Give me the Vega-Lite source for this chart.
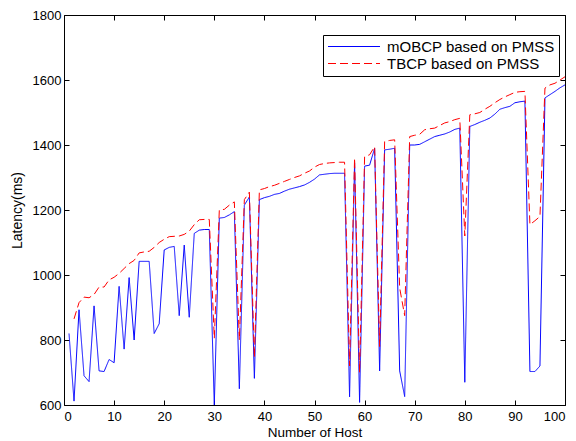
{
  "$schema": "https://vega.github.io/schema/vega-lite/v6.json",
  "width": 501,
  "height": 390,
  "autosize": {"type": "none"},
  "padding": {"left": 64, "top": 15, "right": 11, "bottom": 36},
  "background": "white",
  "config": {
    "view": {"stroke": "black", "strokeWidth": 1},
    "font": "Liberation Sans",
    "axis": {
      "domain": false,
      "grid": false,
      "tickColor": "black",
      "tickSize": -5,
      "labelColor": "black",
      "labelFontSize": 13,
      "labelPadding": 8,
      "format": "d",
      "titleColor": "black",
      "titleFontSize": 14,
      "titleFontWeight": "normal"
    }
  },
  "datasets": {
    "pts": [
      {"x":1,"v":820,"s":"mOBCP based on PMSS"},{"x":2,"v":612,"s":"mOBCP based on PMSS"},{"x":3,"v":893,"s":"mOBCP based on PMSS"},{"x":4,"v":690,"s":"mOBCP based on PMSS"},{"x":5,"v":672,"s":"mOBCP based on PMSS"},{"x":6,"v":905,"s":"mOBCP based on PMSS"},{"x":7,"v":705,"s":"mOBCP based on PMSS"},{"x":8,"v":703,"s":"mOBCP based on PMSS"},{"x":9,"v":740,"s":"mOBCP based on PMSS"},{"x":10,"v":730,"s":"mOBCP based on PMSS"},
      {"x":11,"v":965,"s":"mOBCP based on PMSS"},{"x":12,"v":772,"s":"mOBCP based on PMSS"},{"x":13,"v":992,"s":"mOBCP based on PMSS"},{"x":14,"v":800,"s":"mOBCP based on PMSS"},{"x":15,"v":1042,"s":"mOBCP based on PMSS"},{"x":16,"v":1042,"s":"mOBCP based on PMSS"},{"x":17,"v":1042,"s":"mOBCP based on PMSS"},{"x":18,"v":820,"s":"mOBCP based on PMSS"},{"x":19,"v":850,"s":"mOBCP based on PMSS"},{"x":20,"v":1077,"s":"mOBCP based on PMSS"},
      {"x":21,"v":1085,"s":"mOBCP based on PMSS"},{"x":22,"v":1088,"s":"mOBCP based on PMSS"},{"x":23,"v":875,"s":"mOBCP based on PMSS"},{"x":24,"v":1092,"s":"mOBCP based on PMSS"},{"x":25,"v":870,"s":"mOBCP based on PMSS"},{"x":26,"v":1128,"s":"mOBCP based on PMSS"},{"x":27,"v":1138,"s":"mOBCP based on PMSS"},{"x":28,"v":1140,"s":"mOBCP based on PMSS"},{"x":29,"v":1140,"s":"mOBCP based on PMSS"},{"x":30,"v":600,"s":"mOBCP based on PMSS"},
      {"x":31,"v":1175,"s":"mOBCP based on PMSS"},{"x":32,"v":1177,"s":"mOBCP based on PMSS"},{"x":33,"v":1185,"s":"mOBCP based on PMSS"},{"x":34,"v":1195,"s":"mOBCP based on PMSS"},{"x":35,"v":650,"s":"mOBCP based on PMSS"},{"x":36,"v":1215,"s":"mOBCP based on PMSS"},{"x":37,"v":1240,"s":"mOBCP based on PMSS"},{"x":38,"v":682,"s":"mOBCP based on PMSS"},{"x":39,"v":1232,"s":"mOBCP based on PMSS"},{"x":40,"v":1238,"s":"mOBCP based on PMSS"},
      {"x":41,"v":1242,"s":"mOBCP based on PMSS"},{"x":42,"v":1248,"s":"mOBCP based on PMSS"},{"x":43,"v":1251,"s":"mOBCP based on PMSS"},{"x":44,"v":1258,"s":"mOBCP based on PMSS"},{"x":45,"v":1264,"s":"mOBCP based on PMSS"},{"x":46,"v":1268,"s":"mOBCP based on PMSS"},{"x":47,"v":1272,"s":"mOBCP based on PMSS"},{"x":48,"v":1277,"s":"mOBCP based on PMSS"},{"x":49,"v":1285,"s":"mOBCP based on PMSS"},{"x":50,"v":1295,"s":"mOBCP based on PMSS"},
      {"x":51,"v":1308,"s":"mOBCP based on PMSS"},{"x":52,"v":1310,"s":"mOBCP based on PMSS"},{"x":53,"v":1312,"s":"mOBCP based on PMSS"},{"x":54,"v":1313,"s":"mOBCP based on PMSS"},{"x":55,"v":1313,"s":"mOBCP based on PMSS"},{"x":56,"v":1313,"s":"mOBCP based on PMSS"},{"x":57,"v":625,"s":"mOBCP based on PMSS"},{"x":58,"v":1345,"s":"mOBCP based on PMSS"},{"x":59,"v":608,"s":"mOBCP based on PMSS"},{"x":60,"v":1335,"s":"mOBCP based on PMSS"},
      {"x":61,"v":1338,"s":"mOBCP based on PMSS"},{"x":62,"v":1390,"s":"mOBCP based on PMSS"},{"x":63,"v":705,"s":"mOBCP based on PMSS"},{"x":64,"v":1385,"s":"mOBCP based on PMSS"},{"x":65,"v":1387,"s":"mOBCP based on PMSS"},{"x":66,"v":1390,"s":"mOBCP based on PMSS"},{"x":67,"v":705,"s":"mOBCP based on PMSS"},{"x":68,"v":626,"s":"mOBCP based on PMSS"},{"x":69,"v":1400,"s":"mOBCP based on PMSS"},{"x":70,"v":1400,"s":"mOBCP based on PMSS"},
      {"x":71,"v":1402,"s":"mOBCP based on PMSS"},{"x":72,"v":1410,"s":"mOBCP based on PMSS"},{"x":73,"v":1418,"s":"mOBCP based on PMSS"},{"x":74,"v":1426,"s":"mOBCP based on PMSS"},{"x":75,"v":1430,"s":"mOBCP based on PMSS"},{"x":76,"v":1434,"s":"mOBCP based on PMSS"},{"x":77,"v":1440,"s":"mOBCP based on PMSS"},{"x":78,"v":1448,"s":"mOBCP based on PMSS"},{"x":79,"v":1452,"s":"mOBCP based on PMSS"},{"x":80,"v":670,"s":"mOBCP based on PMSS"},
      {"x":81,"v":1457,"s":"mOBCP based on PMSS"},{"x":82,"v":1463,"s":"mOBCP based on PMSS"},{"x":83,"v":1470,"s":"mOBCP based on PMSS"},{"x":84,"v":1476,"s":"mOBCP based on PMSS"},{"x":85,"v":1483,"s":"mOBCP based on PMSS"},{"x":86,"v":1495,"s":"mOBCP based on PMSS"},{"x":87,"v":1510,"s":"mOBCP based on PMSS"},{"x":88,"v":1515,"s":"mOBCP based on PMSS"},{"x":89,"v":1519,"s":"mOBCP based on PMSS"},{"x":90,"v":1530,"s":"mOBCP based on PMSS"},
      {"x":91,"v":1533,"s":"mOBCP based on PMSS"},{"x":92,"v":1535,"s":"mOBCP based on PMSS"},{"x":93,"v":703,"s":"mOBCP based on PMSS"},{"x":94,"v":703,"s":"mOBCP based on PMSS"},{"x":95,"v":720,"s":"mOBCP based on PMSS"},{"x":96,"v":1545,"s":"mOBCP based on PMSS"},{"x":97,"v":1555,"s":"mOBCP based on PMSS"},{"x":98,"v":1565,"s":"mOBCP based on PMSS"},{"x":99,"v":1576,"s":"mOBCP based on PMSS"},{"x":100,"v":1585,"s":"mOBCP based on PMSS"},

      {"x":2,"v":865,"s":"TBCP based on PMSS"},{"x":3,"v":915,"s":"TBCP based on PMSS"},{"x":4,"v":932,"s":"TBCP based on PMSS"},{"x":5,"v":930,"s":"TBCP based on PMSS"},{"x":6,"v":940,"s":"TBCP based on PMSS"},{"x":7,"v":963,"s":"TBCP based on PMSS"},{"x":8,"v":963,"s":"TBCP based on PMSS"},{"x":9,"v":985,"s":"TBCP based on PMSS"},{"x":10,"v":993,"s":"TBCP based on PMSS"},
      {"x":11,"v":1005,"s":"TBCP based on PMSS"},{"x":12,"v":1020,"s":"TBCP based on PMSS"},{"x":13,"v":1035,"s":"TBCP based on PMSS"},{"x":14,"v":1045,"s":"TBCP based on PMSS"},{"x":15,"v":1068,"s":"TBCP based on PMSS"},{"x":16,"v":1071,"s":"TBCP based on PMSS"},{"x":17,"v":1073,"s":"TBCP based on PMSS"},{"x":18,"v":1085,"s":"TBCP based on PMSS"},{"x":19,"v":1100,"s":"TBCP based on PMSS"},{"x":20,"v":1110,"s":"TBCP based on PMSS"},
      {"x":21,"v":1118,"s":"TBCP based on PMSS"},{"x":22,"v":1119,"s":"TBCP based on PMSS"},{"x":23,"v":1120,"s":"TBCP based on PMSS"},{"x":24,"v":1125,"s":"TBCP based on PMSS"},{"x":25,"v":1135,"s":"TBCP based on PMSS"},{"x":26,"v":1155,"s":"TBCP based on PMSS"},{"x":27,"v":1170,"s":"TBCP based on PMSS"},{"x":28,"v":1171,"s":"TBCP based on PMSS"},{"x":29,"v":1171,"s":"TBCP based on PMSS"},{"x":30,"v":805,"s":"TBCP based on PMSS"},
      {"x":31,"v":1200,"s":"TBCP based on PMSS"},{"x":32,"v":1202,"s":"TBCP based on PMSS"},{"x":33,"v":1215,"s":"TBCP based on PMSS"},{"x":34,"v":1225,"s":"TBCP based on PMSS"},{"x":35,"v":800,"s":"TBCP based on PMSS"},{"x":36,"v":1232,"s":"TBCP based on PMSS"},{"x":37,"v":1255,"s":"TBCP based on PMSS"},{"x":38,"v":746,"s":"TBCP based on PMSS"},{"x":39,"v":1262,"s":"TBCP based on PMSS"},{"x":40,"v":1266,"s":"TBCP based on PMSS"},
      {"x":41,"v":1272,"s":"TBCP based on PMSS"},{"x":42,"v":1276,"s":"TBCP based on PMSS"},{"x":43,"v":1282,"s":"TBCP based on PMSS"},{"x":44,"v":1288,"s":"TBCP based on PMSS"},{"x":45,"v":1294,"s":"TBCP based on PMSS"},{"x":46,"v":1300,"s":"TBCP based on PMSS"},{"x":47,"v":1305,"s":"TBCP based on PMSS"},{"x":48,"v":1313,"s":"TBCP based on PMSS"},{"x":49,"v":1320,"s":"TBCP based on PMSS"},{"x":50,"v":1332,"s":"TBCP based on PMSS"},
      {"x":51,"v":1340,"s":"TBCP based on PMSS"},{"x":52,"v":1343,"s":"TBCP based on PMSS"},{"x":53,"v":1345,"s":"TBCP based on PMSS"},{"x":54,"v":1346,"s":"TBCP based on PMSS"},{"x":55,"v":1347,"s":"TBCP based on PMSS"},{"x":56,"v":1347,"s":"TBCP based on PMSS"},{"x":57,"v":720,"s":"TBCP based on PMSS"},{"x":58,"v":1360,"s":"TBCP based on PMSS"},{"x":59,"v":700,"s":"TBCP based on PMSS"},{"x":60,"v":1364,"s":"TBCP based on PMSS"},
      {"x":61,"v":1370,"s":"TBCP based on PMSS"},{"x":62,"v":1395,"s":"TBCP based on PMSS"},{"x":63,"v":780,"s":"TBCP based on PMSS"},{"x":64,"v":1411,"s":"TBCP based on PMSS"},{"x":65,"v":1414,"s":"TBCP based on PMSS"},{"x":66,"v":1416,"s":"TBCP based on PMSS"},{"x":67,"v":960,"s":"TBCP based on PMSS"},{"x":68,"v":875,"s":"TBCP based on PMSS"},{"x":69,"v":1426,"s":"TBCP based on PMSS"},{"x":70,"v":1430,"s":"TBCP based on PMSS"},
      {"x":71,"v":1433,"s":"TBCP based on PMSS"},{"x":72,"v":1447,"s":"TBCP based on PMSS"},{"x":73,"v":1450,"s":"TBCP based on PMSS"},{"x":74,"v":1452,"s":"TBCP based on PMSS"},{"x":75,"v":1460,"s":"TBCP based on PMSS"},{"x":76,"v":1468,"s":"TBCP based on PMSS"},{"x":77,"v":1472,"s":"TBCP based on PMSS"},{"x":78,"v":1478,"s":"TBCP based on PMSS"},{"x":79,"v":1482,"s":"TBCP based on PMSS"},{"x":80,"v":1120,"s":"TBCP based on PMSS"},
      {"x":81,"v":1493,"s":"TBCP based on PMSS"},{"x":82,"v":1496,"s":"TBCP based on PMSS"},{"x":83,"v":1500,"s":"TBCP based on PMSS"},{"x":84,"v":1510,"s":"TBCP based on PMSS"},{"x":85,"v":1519,"s":"TBCP based on PMSS"},{"x":86,"v":1530,"s":"TBCP based on PMSS"},{"x":87,"v":1540,"s":"TBCP based on PMSS"},{"x":88,"v":1548,"s":"TBCP based on PMSS"},{"x":89,"v":1555,"s":"TBCP based on PMSS"},{"x":90,"v":1562,"s":"TBCP based on PMSS"},
      {"x":91,"v":1564,"s":"TBCP based on PMSS"},{"x":92,"v":1565,"s":"TBCP based on PMSS"},{"x":93,"v":1155,"s":"TBCP based on PMSS"},{"x":94,"v":1167,"s":"TBCP based on PMSS"},{"x":95,"v":1180,"s":"TBCP based on PMSS"},{"x":96,"v":1575,"s":"TBCP based on PMSS"},{"x":97,"v":1585,"s":"TBCP based on PMSS"},{"x":98,"v":1590,"s":"TBCP based on PMSS"},{"x":99,"v":1600,"s":"TBCP based on PMSS"},{"x":100,"v":1610,"s":"TBCP based on PMSS"}
    ]
  },
  "data": {"name": "pts"},
  "resolve": {"axis": {"x": "independent", "y": "independent"}},
  "layer": [
    {
      "mark": {"type": "line", "strokeWidth": 1, "clip": true},
      "encoding": {
        "x": {"field": "x", "type": "quantitative",
              "scale": {"domain": [0, 100], "nice": false},
              "axis": {"orient": "bottom", "values": [0,10,20,30,40,50,60,70,80,90,100], "title": "Number of Host", "labelPadding": 10, "titlePadding": 2, "titleFontSize": 13.5}},
        "y": {"field": "v", "type": "quantitative",
              "scale": {"domain": [600, 1800], "nice": false, "zero": false},
              "axis": {"orient": "left", "values": [600,800,1000,1200,1400,1600,1800], "title": "Latency(ms)", "titlePadding": 8}},
        "color": {"field": "s", "type": "nominal",
                  "scale": {"domain": ["mOBCP based on PMSS", "TBCP based on PMSS"], "range": ["#0000ff", "#ff0000"]},
                  "legend": {"orient": "none", "legendX": 259, "legendY": 20, "title": null,
                             "strokeColor": "black", "fillColor": "white", "padding": 4,
                             "symbolType": "M-1,0H7", "symbolSize": 169, "symbolStrokeWidth": 1,
                             "labelFontSize": 15, "labelLimit": 400, "labelColor": "black", "labelOffset": 45, "rowPadding": 1}},
        "strokeDash": {"field": "s", "type": "nominal",
                       "scale": {"domain": ["mOBCP based on PMSS", "TBCP based on PMSS"], "range": [[1, 0], [8, 4]]},
                       "legend": {"orient": "none", "legendX": 259, "legendY": 20, "title": null,
                             "strokeColor": "black", "fillColor": "white", "padding": 4,
                             "symbolType": "M-1,0H7", "symbolSize": 169, "symbolStrokeWidth": 1,
                             "labelFontSize": 15, "labelLimit": 400, "labelColor": "black", "labelOffset": 45, "rowPadding": 1}}
      }
    },
    {
      "mark": {"type": "point", "opacity": 0},
      "encoding": {
        "x": {"field": "x", "type": "quantitative",
              "scale": {"domain": [0, 100], "nice": false},
              "axis": {"orient": "top", "values": [0,10,20,30,40,50,60,70,80,90,100], "labels": false, "title": null}},
        "y": {"field": "v", "type": "quantitative",
              "scale": {"domain": [600, 1800], "nice": false, "zero": false},
              "axis": {"orient": "right", "values": [600,800,1000,1200,1400,1600,1800], "labels": false, "title": null}}
      }
    }
  ]
}
